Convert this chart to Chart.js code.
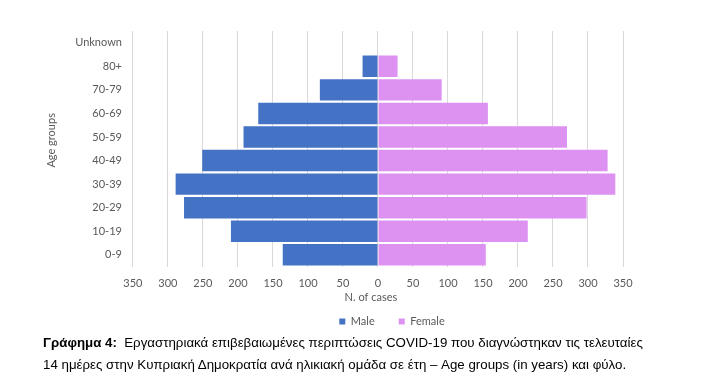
<!DOCTYPE html>
<html>
<head>
<meta charset="utf-8">
<script src="https://cdn.jsdelivr.net/npm/chart.js@4.4.0/dist/chart.umd.min.js"></script>
<style>
  html, body { margin: 0; padding: 0; background: #fff; }
  body { width: 702px; height: 389px; position: relative; overflow: hidden; }
  #wrap { position: absolute; left: 0; top: 0; width: 702px; height: 342px; }
  .cap { position: absolute; left: 43px; font-family: "Liberation Sans", Arial, sans-serif; font-size: 13.3px; line-height: 15px; color: #000; white-space: nowrap; }
  #c1 { top: 335px; }
  #c2 { top: 357px; }
</style>
</head>
<body>
<div id="wrap"><canvas id="chart"></canvas></div>
<div class="cap" id="c1"><b>Γράφημα 4:</b>&nbsp; Εργαστηριακά επιβεβαιωμένες περιπτώσεις COVID-19 που διαγνώστηκαν τις τελευταίες</div>
<div class="cap" id="c2">14 ημέρες στην Κυπριακή Δημοκρατία ανά ηλικιακή ομάδα σε έτη – Age groups (in years) και φύλο.</div>
<script>
const categories = ["Unknown", "80+", "70-79", "60-69", "50-59", "40-49", "30-39", "20-29", "10-19", "0-9"];
const male   = [0, 22, 83, 171, 192, 251, 289, 277, 210, 136];
const female = [0, 28, 91, 157, 270, 328, 339, 298, 214, 154];
const xTicks = [-350, -300, -250, -200, -150, -100, -50, 0, 50, 100, 150, 200, 250, 300, 350];

const font = "Lato, 'Open Sans', sans-serif";
const grey = "#595959";

const legendShift = {
  id: "legendShift",
  afterLayout(chart) {
    const lg = chart.legend;
    if (lg) { lg.left += 58; lg.right += 58; }
  }
};

new Chart(document.getElementById("chart"), {
  type: "bar",
  data: {
    labels: categories,
    datasets: [
      { label: "Male", data: male.map(v => -v), backgroundColor: "#4472C4", categoryPercentage: 1, barPercentage: 0.91 },
      { label: "Female", data: female, backgroundColor: "#DD92F2", categoryPercentage: 1, barPercentage: 0.91 }
    ]
  },
  plugins: [legendShift],
  options: {
    indexAxis: "y",
    responsive: true,
    maintainAspectRatio: false,
    animation: false,
    layout: { padding: { left: 45, right: 79, top: 31, bottom: 5 } },
    plugins: {
      legend: {
        position: "bottom",
        labels: { boxWidth: 6, boxHeight: 6, font: { family: font, size: 11 }, color: grey, padding: 24 }
      },
      tooltip: { enabled: false }
    },
    scales: {
      x: {
        stacked: true,
        min: -350, max: 350,
        afterBuildTicks: axis => { axis.ticks = xTicks.map(v => ({ value: v })); },
        ticks: { callback: v => Math.abs(v), font: { family: font, size: 11 }, color: grey, maxRotation: 0, padding: 10 },
        grid: { color: "#d9d9d9", drawTicks: false },
        border: { display: false },
        title: { display: true, text: "N. of cases     ", font: { family: font, size: 11 }, color: grey, padding: { top: -9, bottom: -12 } }
      },
      y: {
        stacked: true,
        ticks: { font: { family: font, size: 11 }, color: grey, padding: 11 },
        grid: { display: false, drawTicks: false },
        border: { display: false },
        title: { display: true, text: "      Age groups", font: { family: font, size: 11 }, color: grey, padding: { top: 0, bottom: 6 } }
      }
    }
  }
});
</script>
</body>
</html>
